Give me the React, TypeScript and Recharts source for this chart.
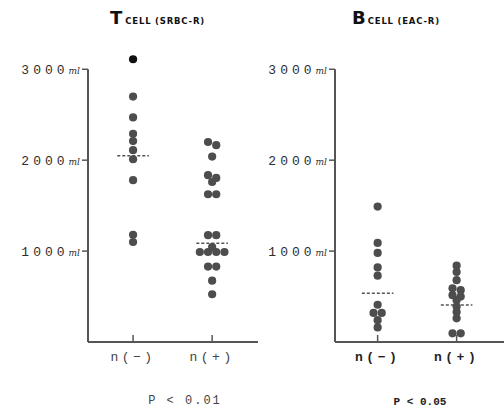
import React from "react";
import { ScatterChart, Scatter, XAxis, YAxis, ReferenceLine } from "recharts";

// categories on the x axis (positions 1 and 2)
const groups = ["n(−)", "n(+)"];
const yTicks = [1000, 2000, 3000];

// T cell (SRBC-R) counts per ml
const tNeg = [3110, 2700, 2470, 2290, 2210, 2110, 2010, 1780, 1180, 1100];
const tPos = [2200, 2165, 2040, 1835, 1805, 1760, 1625, 1625, 1175, 1175, 1045, 990, 990, 990, 990, 830, 830, 675, 525];
const tMeans = [2050, 1085];

// B cell (EAC-R) counts per ml
const bNeg = [1490, 1090, 980, 820, 730, 410, 320, 320, 240, 160];
const bPos = [840, 770, 680, 590, 570, 515, 500, 460, 390, 330, 260, 95, 95];
const bMeans = [535, 407];

const pLabels = ["P < 0.01", "P < 0.05"];

const PX_PER_X = 79;
const DOT = 8.2;

// lay dots with (nearly) equal values side by side, centred on the category
function swarm(values: number[], center: number) {
  const rows: number[][] = [];
  [...values]
    .sort((a, b) => b - a)
    .forEach((v) => {
      const row = rows[rows.length - 1];
      if (row && row[0] - v <= 40) row.push(v);
      else rows.push([v]);
    });
  return rows.flatMap((row) =>
    row.map((v, i) => ({
      x: center + ((i - (row.length - 1) / 2) * DOT) / PX_PER_X,
      y: v,
    }))
  );
}

const Dot = (props: any) => {
  const { cx, cy, payload } = props;
  return (
    <circle
      cx={cx}
      cy={cy}
      r={4.1}
      fill={payload.y > 3000 ? "#111" : "#4d4d4d"}
    />
  );
};

const YTick = (props: any) => {
  const { x, y, payload } = props;
  return (
    <g>
      <line x1={x + 2} x2={x + 8} y1={y} y2={y} stroke="#555" strokeWidth={1.5} />
      <text
        x={x}
        y={y}
        dy={4.5}
        textAnchor="end"
        fill="#2e2e2e"
        fontFamily="'Liberation Mono', monospace"
        fontSize={13}
      >
        <tspan style={{ letterSpacing: 4 }}>{payload.value}</tspan>
        <tspan
          fontSize={9}
          fontStyle="italic"
          fontFamily="'DejaVu Serif', serif"
          style={{ letterSpacing: 0 }}
        >
          ml
        </tspan>
      </text>
    </g>
  );
};

const makeXTick = (bold: boolean) => (props: any) => {
  const { x, y, payload } = props;
  return (
    <g>
      <line x1={x} x2={x} y1={y - 7} y2={y} stroke="#555" strokeWidth={1.5} />
      <text
        x={x}
        y={y + 19}
        textAnchor="middle"
        fill={bold ? "#222" : "#444"}
        fontWeight={bold ? "bold" : "normal"}
        fontFamily="'Liberation Mono', monospace"
        fontSize={13}
        style={{ letterSpacing: 3.5 }}
      >
        {groups[payload.value - 1]}
      </text>
    </g>
  );
};

interface PanelProps {
  neg: number[];
  pos: number[];
  means: number[];
  left: number;
  width: number;
  axisWidth: number;
  xDomain: [number, number];
  bold: boolean;
}

function Panel({ neg, pos, means, left, width, axisWidth, xDomain, bold }: PanelProps) {
  return (
    <div style={{ position: "absolute", left, top: 0 }}>
      <ScatterChart
        width={width}
        height={409}
        margin={{ top: 42, right: width - axisWidth - Math.round((xDomain[1] - xDomain[0]) * PX_PER_X), bottom: 0, left: 0 }}
      >
        <XAxis
          type="number"
          dataKey="x"
          domain={xDomain}
          ticks={[1, 2]}
          height={67}
          tickSize={0}
          tickMargin={0}
          tickLine={false}
          axisLine={{ stroke: "#555", strokeWidth: 2 }}
          tick={makeXTick(bold)}
          allowDataOverflow
        />
        <YAxis
          type="number"
          dataKey="y"
          domain={[0, 3300]}
          ticks={yTicks}
          width={axisWidth}
          tickSize={6}
          tickMargin={2}
          axisLine={false}
          tickLine={false}
          tick={<YTick />}
          allowDataOverflow
        />
        <ReferenceLine
          segment={[
            { x: xDomain[0], y: 0 },
            { x: xDomain[0], y: 3000 },
          ]}
          stroke="#555"
          strokeWidth={2}
          ifOverflow="visible"
        />
        {means.map((m, i) => (
          <ReferenceLine
            key={i}
            segment={[
              { x: i + 1 - 0.2, y: m },
              { x: i + 1 + 0.2, y: m },
            ]}
            stroke="#555"
            strokeWidth={1.5}
            strokeDasharray="3 2"
            ifOverflow="visible"
          />
        ))}
        <Scatter data={swarm(neg, 1)} shape={<Dot />} isAnimationActive={false} />
        <Scatter data={swarm(pos, 2)} shape={<Dot />} isAnimationActive={false} />
      </ScatterChart>
    </div>
  );
}

const titleStyle: React.CSSProperties = {
  position: "absolute",
  top: 6,
  fontFamily: "'DejaVu Sans', sans-serif",
  fontWeight: "bold",
  color: "#111",
  whiteSpace: "nowrap",
  lineHeight: "24px",
};

export default function App() {
  return (
    <div
      style={{
        position: "absolute",
        left: 0,
        top: 0,
        width: 504,
        height: 409,
        background: "#fff",
        overflow: "hidden",
      }}
    >
      <Panel neg={tNeg} pos={tPos} means={tMeans} left={0} width={260} axisWidth={88} xDomain={[0.43, 2.58]} bold={false} />
      <Panel neg={bNeg} pos={bPos} means={bMeans} left={250} width={254} axisWidth={85} xDomain={[0.46, 2.6]} bold={true} />

      <div style={{ ...titleStyle, left: 110 }}>
        <span style={{ fontSize: 18 }}>T</span>
        <span style={{ fontSize: 8.5, letterSpacing: 0.8, marginLeft: 3 }}>CELL (SRBC-R)</span>
      </div>
      <div style={{ ...titleStyle, left: 352 }}>
        <span style={{ fontSize: 18 }}>B</span>
        <span style={{ fontSize: 8.5, letterSpacing: 0.8, marginLeft: 2 }}>CELL (EAC-R)</span>
      </div>

      <div
        style={{
          position: "absolute",
          left: 135,
          width: 100,
          top: 393,
          textAlign: "center",
          fontFamily: "'Liberation Mono', monospace",
          fontSize: 12,
          letterSpacing: 2,
          color: "#444",
          lineHeight: "16px",
        }}
      >
        {pLabels[0]}
      </div>
      <div
        style={{
          position: "absolute",
          left: 370,
          width: 100,
          top: 394,
          textAlign: "center",
          fontFamily: "'Liberation Mono', monospace",
          fontWeight: "bold",
          fontSize: 11,
          color: "#222",
          lineHeight: "16px",
        }}
      >
        {pLabels[1]}
      </div>
    </div>
  );
}
